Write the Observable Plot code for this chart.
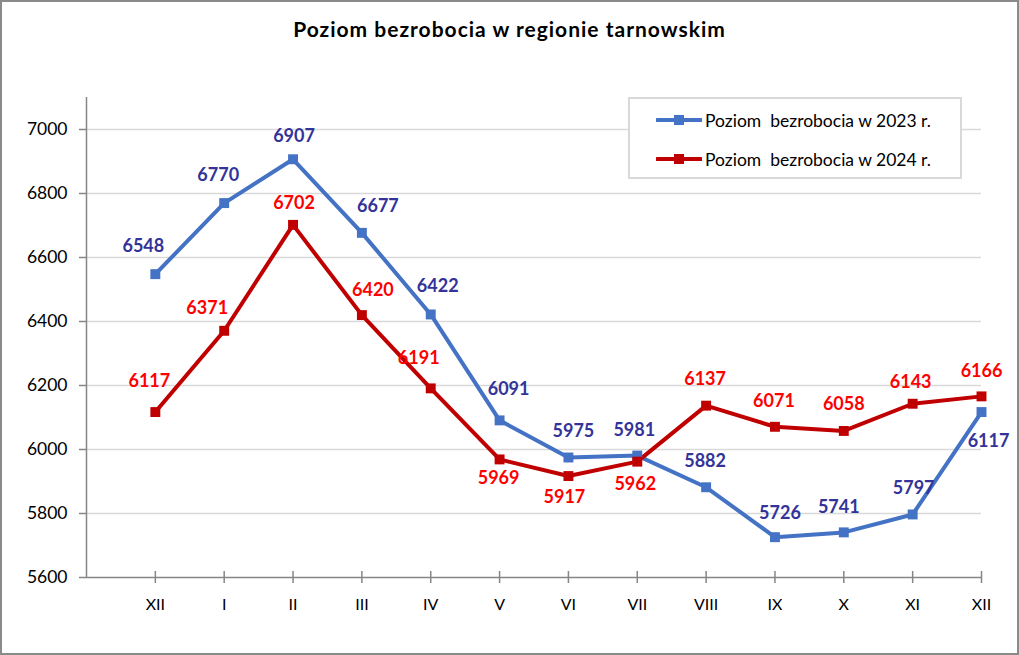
<!DOCTYPE html>
<html>
<head>
<meta charset="utf-8">
<script src="https://cdn.jsdelivr.net/npm/d3@7"></script>
<script src="https://cdn.jsdelivr.net/npm/@observablehq/plot@0.6"></script>
<style>
  body { margin: 0; background: #fff; }
  #chart { position: relative; width: 1019px; height: 655px; box-sizing: border-box; border: 2px solid #8a8a8a; background: #fff; font-family: Lato, "Open Sans", sans-serif; }
  #title { height: 60px; box-sizing: border-box; padding-top: 14px; text-align: center; font-size: 21px; letter-spacing: 1px; line-height: 25px; font-weight: bold; color: #000; }
  #legend { position: absolute; left: 626px; top: 95px; width: 334px; height: 82px; box-sizing: border-box; border: 2px solid #d9d9d9; background: #fff; }
  .row { position: absolute; left: 26px; height: 20px; display: flex; align-items: center; font-size: 17.5px; color: #000; white-space: pre; }
  .row svg { margin-right: 3px; }
</style>
</head>
<body>
<div id="chart">
  <div id="title">Poziom bezrobocia w regionie tarnowskim</div>
  <div id="plot"></div>
  <div id="legend"></div>
</div>
<script>
const months = ["XII","I","II","III","IV","V","VI","VII","VIII","IX","X","XI","XII"];
const values2023 = [6548, 6770, 6907, 6677, 6422, 6091, 5975, 5981, 5882, 5726, 5741, 5797, 6117];
const values2024 = [6117, 6371, 6702, 6420, 6191, 5969, 5917, 5962, 6137, 6071, 6058, 6143, 6166];
const yTicks = [5600, 5800, 6000, 6200, 6400, 6600, 6800, 7000];
const seriesNames = ["Poziom  bezrobocia w 2023 r.", "Poziom  bezrobocia w 2024 r."];

// label placement offsets (pixels) – styling, not data
const off2023 = [[-12,-28],[-6,-28],[1,-23],[16,-27],[7,-28],[9,-31],[5,-26],[-3,-25],[-1,-26],[5,-24],[-5,-25],[1,-26],[7,29]];
const off2024 = [[-6,-31],[-17,-23],[1,-22],[11,-25],[-12,-30],[-1,19],[-4,21],[-2,23],[-1,-26],[-1,-26],[0,-27],[-2,-22],[0,-25]];

const c2023 = "#4472c4", c2024 = "#c00000";
const l2023 = "#333399", l2024 = "#ff0000";
const axisColor = "#868686";

const d2023 = values2023.map((v, i) => ({i: i + 1, v}));
const d2024 = values2024.map((v, i) => ({i: i + 1, v}));
const xIdx = months.map((m, i) => i + 1);

const labelMarks = (data, offs, color) => data.map((d, k) =>
  Plot.text([d], {x: "i", y: "v", text: d => String(d.v), dx: offs[k][0], dy: offs[k][1],
    fill: color, fontWeight: "bold", fontSize: 18}));

const chart = Plot.plot({
  width: 1015,
  height: 591,
  marginTop: 35,
  marginBottom: 76,
  marginLeft: 84,
  marginRight: 36,
  style: {fontFamily: "Lato, 'Open Sans', sans-serif", background: "transparent"},
  x: {domain: [0, 13], axis: null},
  y: {domain: [5600, 7100], axis: null},
  marks: [
    Plot.ruleY(yTicks.filter(t => t > 5600), {x1: 0, x2: 13, stroke: "#d9d9d9", strokeWidth: 1.5}),
    Plot.axisY({ticks: yTicks, label: null, tickSize: 7, tickPadding: 12, stroke: axisColor, strokeWidth: 1.5, fontSize: 17.5, color: "#000", tickFormat: d => String(d)}),
    Plot.axisX({ticks: xIdx, label: null, tickSize: 6, tickPadding: 15, stroke: axisColor, strokeWidth: 1.5, fontSize: 16, color: "#000", tickFormat: i => months[i - 1]}),
    Plot.ruleX(xIdx, {x: d => d, y1: 5600, y2: 5600 + 6 / 0.32, stroke: axisColor, strokeWidth: 1.5}),
    Plot.ruleX([0], {y1: 5600, y2: 7100, stroke: axisColor, strokeWidth: 1.5}),
    Plot.ruleY([5600], {x1: 0, x2: 13, stroke: axisColor, strokeWidth: 1.5}),
    Plot.line(d2023, {x: "i", y: "v", stroke: c2023, strokeWidth: 4}),
    Plot.line(d2024, {x: "i", y: "v", stroke: c2024, strokeWidth: 4}),
    Plot.dot(d2023, {x: "i", y: "v", symbol: "square", r: 5.6, fill: c2023}),
    Plot.dot(d2024, {x: "i", y: "v", symbol: "square", r: 5.6, fill: c2024}),
    ...labelMarks(d2023, off2023, l2023),
    ...labelMarks(d2024, off2024, l2024)
  ]
});
document.getElementById("plot").appendChild(chart);

const legend = document.getElementById("legend");
[[seriesNames[0], c2023, 11], [seriesNames[1], c2024, 50]].forEach(([name, color, top]) => {
  const row = document.createElement("div");
  row.className = "row";
  row.style.top = top + "px";
  row.innerHTML = `<svg width="46" height="14"><line x1="1" y1="7" x2="45" y2="7" stroke="${color}" stroke-width="4" stroke-linecap="round"/><rect x="18" y="2" width="10" height="10" fill="${color}"/></svg><span>${name}</span>`;
  legend.appendChild(row);
});
</script>
</body>
</html>
